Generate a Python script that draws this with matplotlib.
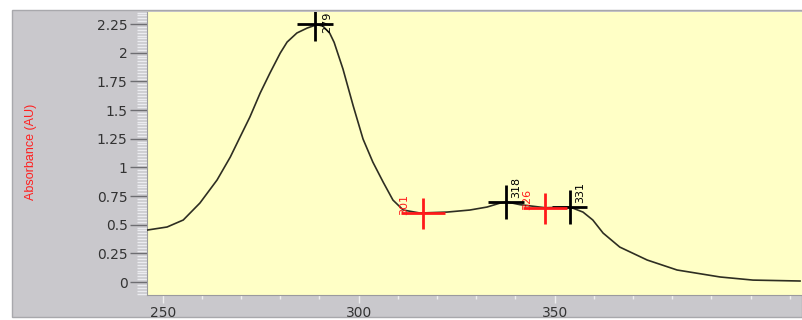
import matplotlib
matplotlib.use("Agg")
import matplotlib.pyplot as plt
from matplotlib.patches import Rectangle
from matplotlib.ticker import MultipleLocator, FixedLocator

# absorbance spectrum
wavelength_nm = [244.7, 248.8, 252.1, 255.5, 259.0, 261.7, 263.7, 265.7, 267.8, 269.8,
                 271.9, 273.3, 275.3, 277.4, 279.4, 280.6, 282.0, 282.9, 284.7, 286.8,
                 288.8, 290.8, 292.9, 294.9, 297.0, 300.4, 305.9, 310.6, 314.1, 316.8,
                 318.2, 320.8, 326.0, 331.0, 333.7, 335.7, 337.8, 341.2, 346.8, 352.9,
                 361.7, 368.4, 378.0]
absorbance = [0.453, 0.480, 0.541, 0.689, 0.890, 1.090, 1.265, 1.439, 1.648, 1.823,
              1.997, 2.093, 2.172, 2.215, 2.245, 2.232, 2.170, 2.090, 1.858, 1.535,
              1.247, 1.046, 0.872, 0.715, 0.628, 0.602, 0.610, 0.628, 0.654, 0.689,
              0.698, 0.675, 0.648, 0.655, 0.610, 0.541, 0.427, 0.305, 0.192, 0.105,
              0.044, 0.017, 0.009]

# maxima (black) and minima (red)
peak_nm = [279, 318, 331]
peak_abs = [2.25, 0.70, 0.655]
valley_nm = [301, 326]
valley_abs = [0.60, 0.645]

y_ticks = [0, 0.25, 0.5, 0.75, 1, 1.25, 1.5, 1.75, 2, 2.25]
y_ticklabels = ["0", "0.25", "0.5", "0.75", "1", "1.25", "1.5", "1.75", "2", "2.25"]
x_ticks = [250, 300, 350]

# bottom axis is printed in display units: 250 on it sits at 247.9 nm, 0.8 nm per unit
scale_origin_nm = 247.9
scale_factor = 0.80


def to_display(nm):
    return 250 + (nm - scale_origin_nm) / scale_factor


def to_nm(d):
    return scale_origin_nm + (d - 250) * scale_factor


panel_grey = "#c9c8cc"
plot_yellow = "#ffffc6"
text_grey = "#333333"

fig = plt.figure(figsize=(8.02, 3.2), dpi=100, facecolor="white")
fig.patches.append(Rectangle((12 / 802, 3 / 320), 1 - 12 / 802, 307 / 320,
                             transform=fig.transFigure, facecolor=panel_grey,
                             edgecolor="#a8a8ac", linewidth=1, zorder=-10))

ax = fig.add_axes([147 / 802, 25 / 320, 655 / 802, 283 / 320])
ax.set_facecolor(plot_yellow)
ax.set_xlim(244.7, 378.4)
ax.set_ylim(-0.113, 2.355)

ax.plot(wavelength_nm, absorbance, color="#2e2e22", linewidth=1.2, zorder=3)

ax.errorbar(peak_nm, peak_abs, xerr=3.6, yerr=0.15, fmt="none",
            ecolor="black", elinewidth=2, capsize=0, zorder=4)
ax.errorbar(valley_nm, valley_abs, xerr=4.5, yerr=0.135, fmt="none",
            ecolor="#ff1a1a", elinewidth=2, capsize=0, zorder=4)

label_font = dict(family="DejaVu Sans", size=8, rotation=90)
for x, y in zip(peak_nm, peak_abs):
    if y > 2.0:
        ax.annotate(str(x), xy=(x, 1.0), xycoords=("data", "axes fraction"),
                    xytext=(5, 0), textcoords="offset points",
                    ha="left", va="top", color="black", **label_font)
    else:
        ax.annotate(str(x), xy=(x, y), xytext=(3.6, 2.8), textcoords="offset points",
                    ha="left", va="bottom", color="black", **label_font)
for x, y in zip(valley_nm, valley_abs):
    ax.annotate(str(x), xy=(x, y), xytext=(-9.5, -1.5), textcoords="offset points",
                ha="right", va="bottom", color="#ff1a1a", **label_font)

# y axis: ruler-style minor ticks
ax.set_yticks(y_ticks)
ax.set_yticklabels(y_ticklabels, family="DejaVu Sans", fontsize=10, color=text_grey)
ax.yaxis.set_minor_locator(MultipleLocator(0.025))
ax.tick_params(axis="y", which="major", length=12, width=1, color="#6e6e72", pad=2)
ax.tick_params(axis="y", which="minor", length=7, width=1, color="#ececf0")

# x axis drawn through the display scale
ax.tick_params(axis="x", which="both", bottom=False, labelbottom=False)
sec = ax.secondary_xaxis("bottom", functions=(to_display, to_nm))
sec.xaxis.set_major_locator(FixedLocator(x_ticks))
sec.xaxis.set_minor_locator(MultipleLocator(10))
sec.tick_params(axis="x", which="major", length=6, width=1, color="#eeeeee",
                labelsize=10, labelcolor=text_grey, pad=2)
sec.tick_params(axis="x", which="minor", length=3, width=1, color="#eeeeee")
for lab in sec.get_xticklabels():
    lab.set_family("DejaVu Sans")
sec.spines["bottom"].set_visible(False)

for side in ["top", "right"]:
    ax.spines[side].set_visible(False)
ax.spines["left"].set_color("#9a9a9e")
ax.spines["bottom"].set_color("#9a9a9e")

fig.text(31 / 802, 1 - 152 / 320, "Absorbance (AU)", rotation=90, ha="center",
         va="center", color="#ff2020", fontsize=9, family="Liberation Sans")

fig.savefig("out.png", dpi=100, facecolor="white")
